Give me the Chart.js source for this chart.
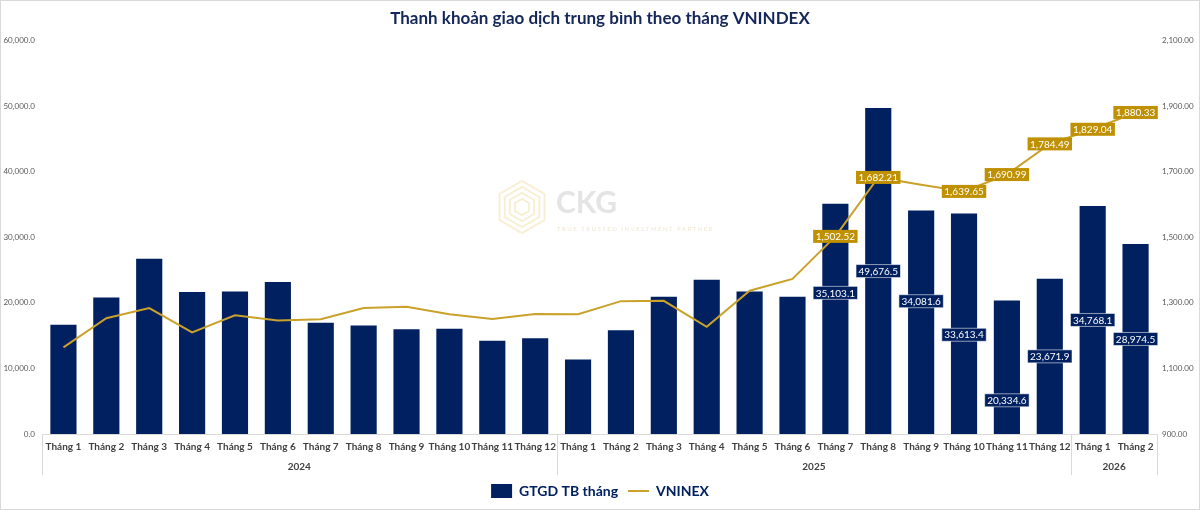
<!DOCTYPE html>
<html>
<head>
<meta charset="utf-8">
<title>Thanh khoản giao dịch trung bình theo tháng VNINDEX</title>
<script src="https://cdn.jsdelivr.net/npm/chart.js@4.4.1/dist/chart.umd.min.js"></script>
<style>
    html, body { margin: 0; padding: 0; background: #ffffff; }
    #chartCanvas { display: block; }
</style>
</head>
<body>
<canvas id="chartCanvas" width="1200" height="510"></canvas>
<script>
const months = [
    'Tháng 1', 'Tháng 2', 'Tháng 3', 'Tháng 4', 'Tháng 5', 'Tháng 6',
    'Tháng 7', 'Tháng 8', 'Tháng 9', 'Tháng 10', 'Tháng 11', 'Tháng 12',
    'Tháng 1', 'Tháng 2', 'Tháng 3', 'Tháng 4', 'Tháng 5', 'Tháng 6',
    'Tháng 7', 'Tháng 8', 'Tháng 9', 'Tháng 10', 'Tháng 11', 'Tháng 12',
    'Tháng 1', 'Tháng 2'
];
const yearLabels = ['2024', '2025', '2026'];
const monthsPerYear = [12, 12, 2];

// GTGD TB tháng (left axis)
const liquidity = [
    16650, 20800, 26700, 21630, 21730, 23160, 16950, 16540, 15980, 16030, 14200, 14610,
    11350, 15830, 20920, 23500, 21730, 20920, 35103.1, 49676.5, 34081.6, 33613.4, 20334.6, 23671.9,
    34768.1, 28974.5
];
// VNINDEX (right axis)
const vnindex = [
    1164, 1253, 1284, 1210, 1262, 1246, 1250, 1284, 1288, 1265, 1251, 1266,
    1265, 1305, 1306, 1227, 1337, 1373, 1502.52, 1682.21, 1660, 1639.65, 1690.99, 1784.49,
    1829.04, 1880.33
];
const labeledBars = [18, 19, 20, 21, 22, 23, 24, 25];
const labeledPoints = [18, 19, 21, 22, 23, 24, 25];

const leftTicks = [0, 10000, 20000, 30000, 40000, 50000, 60000];
const rightTicks = [900, 1100, 1300, 1500, 1700, 1900, 2100];

const NAVY = '#002060';
const GOLD = '#BF9000';
const LINE_GOLD = '#C9A12B';
const FONT = 'Lato';

function formatNumber(v, digits) {
    return v.toLocaleString('en-US', { minimumFractionDigits: digits, maximumFractionDigits: digits });
}

function drawTag(ctx, text, cx, cy, fill, stroke) {
    var w = ctx.measureText(text).width + 5;
    var h = 13;
    ctx.fillStyle = fill;
    ctx.fillRect(cx - w / 2, cy - h / 2, w, h);
    if (stroke) {
        ctx.strokeStyle = stroke;
        ctx.lineWidth = 1;
        ctx.strokeRect(cx - w / 2, cy - h / 2, w, h);
    }
    ctx.fillStyle = '#ffffff';
    ctx.fillText(text, cx, cy + 0.5);
}

const watermarkPlugin = {
    id: 'watermark',
    beforeDatasetsDraw(chart) {
        var ctx = chart.ctx;
        ctx.save();
        ctx.strokeStyle = '#f8eed2';
        ctx.lineWidth = 2;
        for (var r = 8; r <= 26; r += 6) {
            ctx.beginPath();
            for (var k = 0; k < 6; k++) {
                var a = Math.PI / 3 * k + Math.PI / 6;
                var px = 522 + r * Math.cos(a), py = 207 + r * Math.sin(a);
                if (k === 0) ctx.moveTo(px, py); else ctx.lineTo(px, py);
            }
            ctx.closePath();
            ctx.stroke();
        }
        ctx.fillStyle = '#e4e4e4';
        ctx.font = 'bold 30px ' + FONT;
        ctx.textAlign = 'left';
        ctx.textBaseline = 'middle';
        ctx.fillText('CKG', 556, 203);
        ctx.fillStyle = '#efe7d0';
        ctx.font = '6px ' + FONT;
        ctx.letterSpacing = '1.5px';
        ctx.fillText('TRUE TRUSTED INVESTMENT PARTNER', 557, 229);
        ctx.restore();
    }
};

const valueLabelPlugin = {
    id: 'valueLabels',
    afterDatasetsDraw(chart, args, opts) {
        var ctx = chart.ctx;
        var bars = chart.getDatasetMeta(0).data;
        var points = chart.getDatasetMeta(1).data;
        ctx.save();
        ctx.font = '10px ' + FONT;
        ctx.textAlign = 'center';
        ctx.textBaseline = 'middle';
        labeledBars.forEach(function (i) {
            var bar = bars[i];
            var cy = (bar.y + bar.base) / 2 + (opts.barShift[i] || 0);
            drawTag(ctx, formatNumber(liquidity[i], 1), bar.x, cy, NAVY, 'rgba(255,255,255,0.55)');
        });
        labeledPoints.forEach(function (i) {
            var pt = points[i];
            drawTag(ctx, formatNumber(vnindex[i], 2), pt.x, pt.y, GOLD, null);
        });
        ctx.restore();
    }
};

const yearGroupPlugin = {
    id: 'yearGroups',
    afterDraw(chart) {
        var ctx = chart.ctx;
        var x = chart.scales.x;
        var area = chart.chartArea;
        var half = (x.getPixelForValue(1) - x.getPixelForValue(0)) / 2;
        var start = 0;

        ctx.save();
        ctx.strokeStyle = '#d9d9d9';
        ctx.lineWidth = 1;
        ctx.font = 'bold 10px ' + FONT;
        ctx.fillStyle = '#404040';
        ctx.textAlign = 'center';
        ctx.textBaseline = 'middle';

        function separator(px) {
            var sx = Math.round(px) + 0.5;
            ctx.beginPath();
            ctx.moveTo(sx, area.bottom);
            ctx.lineTo(sx, area.bottom + 41);
            ctx.stroke();
        }

        separator(area.left);
        monthsPerYear.forEach(function (n, g) {
            var left = x.getPixelForValue(start) - half;
            var right = x.getPixelForValue(start + n - 1) + half;
            separator(right);
            ctx.fillText(yearLabels[g], (left + right) / 2, area.bottom + 33);
            start += n;
        });

        // outer frame
        ctx.strokeStyle = '#d9d9d9';
        ctx.strokeRect(0.5, 0.5, chart.width - 1, chart.height - 1);
        ctx.restore();
    }
};

new Chart(document.getElementById('chartCanvas'), {
    type: 'bar',
    data: {
        labels: months,
        datasets: [
            {
                type: 'bar',
                label: 'GTGD TB tháng',
                data: liquidity,
                backgroundColor: NAVY,
                borderWidth: 0,
                barPercentage: 0.61,
                categoryPercentage: 1.0,
                yAxisID: 'y',
                order: 1
            },
            {
                type: 'line',
                label: 'VNINEX',
                data: vnindex,
                borderColor: LINE_GOLD,
                borderWidth: 2,
                pointRadius: 0,
                tension: 0,
                fill: false,
                yAxisID: 'y1',
                order: 0
            }
        ]
    },
    options: {
        responsive: false,
        animation: false,
        layout: { padding: { left: 0, right: 0, top: 0, bottom: 2 } },
        scales: {
            x: {
                grid: { display: false, drawTicks: false },
                border: { display: true, color: '#d9d9d9' },
                ticks: {
                    autoSkip: false,
                    maxRotation: 0,
                    minRotation: 0,
                    padding: 7,
                    color: '#404040',
                    font: { family: FONT, size: 10, weight: 'bold' }
                },
                afterFit: function (scale) { scale.height = 40; }
            },
            y: {
                position: 'left',
                min: 0,
                max: 60000,
                grid: { display: false, drawTicks: false },
                border: { display: false },
                afterBuildTicks: function (scale) {
                    scale.ticks = leftTicks.map(function (v) { return { value: v }; });
                },
                ticks: {
                    padding: 7,
                    color: '#595959',
                    font: { family: FONT, size: 8 },
                    callback: function (v) { return formatNumber(v, 1); }
                },
                afterFit: function (scale) { scale.width = 42; }
            },
            y1: {
                position: 'right',
                min: 900,
                max: 2100,
                grid: { display: false, drawTicks: false },
                border: { display: false },
                afterBuildTicks: function (scale) {
                    scale.ticks = rightTicks.map(function (v) { return { value: v }; });
                },
                ticks: {
                    padding: 5,
                    color: '#595959',
                    font: { family: FONT, size: 8 },
                    callback: function (v) { return formatNumber(v, 2); }
                },
                afterFit: function (scale) { scale.width = 43; }
            }
        },
        plugins: {
            title: {
                display: true,
                text: 'Thanh khoản giao dịch trung bình theo tháng VNINDEX',
                color: '#14275A',
                font: { family: FONT, size: 17, weight: 'bold' },
                padding: { top: 8, bottom: 12 }
            },
            legend: {
                position: 'bottom',
                labels: {
                    usePointStyle: true,
                    pointStyleWidth: 21,
                    boxHeight: 14,
                    padding: 10,
                    color: NAVY,
                    font: { family: FONT, size: 14, weight: 'bold' },
                    generateLabels: function (chart) {
                        var ds = chart.data.datasets;
                        return [
                            { text: ds[0].label, fillStyle: NAVY, strokeStyle: NAVY, lineWidth: 0, pointStyle: 'rect', datasetIndex: 0, fontColor: NAVY },
                            { text: ds[1].label, fillStyle: LINE_GOLD, strokeStyle: LINE_GOLD, lineWidth: 2, pointStyle: 'line', datasetIndex: 1, fontColor: NAVY }
                        ];
                    }
                }
            },
            tooltip: { enabled: false },
            valueLabels: {
                barShift: { 18: -26, 20: -21, 21: 11, 22: 33 }
            }
        }
    },
    plugins: [watermarkPlugin, valueLabelPlugin, yearGroupPlugin]
});
</script>
</body>
</html>
